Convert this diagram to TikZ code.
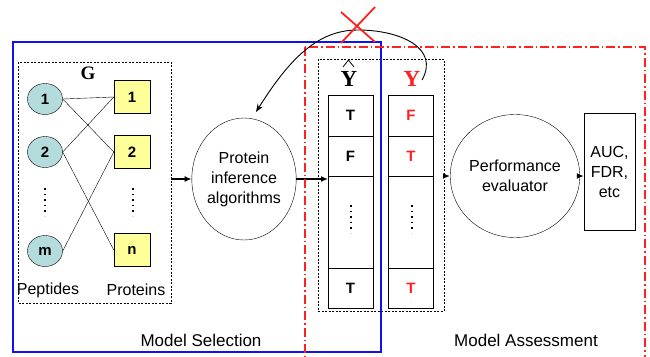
\documentclass[tikz,border=0pt]{standalone}
\usepackage{fontspec}
\setmainfont{Liberation Serif}
\setsansfont{Liberation Sans}
\usetikzlibrary{shapes.geometric,arrows.meta}
\definecolor{pepfill}{HTML}{B5DCDD}
\definecolor{protfill}{HTML}{FFFF99}
\definecolor{myred}{HTML}{FF2020}
\definecolor{myblue}{HTML}{1010F0}
\begin{document}
\begin{tikzpicture}[x=1pt,y=-1pt,
  every node/.style={font=\sffamily\fontsize{16}{20}\selectfont},
  pep/.style={ellipse,draw,fill=pepfill,minimum width=35,minimum height=31,inner sep=0,font=\sffamily\bfseries\fontsize{15}{18}\selectfont},
  prot/.style={rectangle,draw,fill=protfill,minimum width=36,minimum height=33,inner sep=0,font=\sffamily\bfseries\fontsize{15}{18}\selectfont},
  proc/.style={ellipse,draw,inner sep=0,align=center},
  cell/.style={rectangle,draw,minimum width=45,inner sep=0,font=\sffamily\bfseries\fontsize{15}{18}\selectfont},
  flow/.style={line width=1.6pt,-{Latex[length=7pt,width=6pt]}},
  vdots/.style={line width=2pt,dash pattern=on 1.6pt off 4pt},
  gbox/.style={draw,dashed,dash pattern=on 2pt off 1.5pt,line width=0.6pt},
  lbl/.style={font=\sffamily\fontsize{17}{20}\selectfont},
  bigY/.style={font=\rmfamily\bfseries\fontsize{23}{24}\selectfont,inner sep=0}
]
\useasboundingbox (0,0) rectangle (650,356);
\clip (0,0) rectangle (650,356);

% G box
\draw[gbox] (18,62) rectangle (171,303);
\node[font=\rmfamily\bfseries\fontsize{19}{22}\selectfont] (G) at (88,73) {G};
\node[pep] (p1) at (45,99) {1};
\node[pep] (p2) at (45,152) {2};
\node[pep] (pm) at (45,251) {m};
\node[prot] (r1) at (132,97) {1};
\node[prot] (r2) at (132,152) {2};
\node[prot] (rn) at (132,250) {n};
\draw (p1.east) -- (r1.west);
\draw (p1.east) -- (r2.west);
\draw (p2.east) -- (r1.west);
\draw (p2.east) -- (rn.west);
\draw (pm.east) -- (r2.west);
\coordinate (d1a) at (45,188); \coordinate (d1b) at (45,216);
\coordinate (d2a) at (133,188); \coordinate (d2b) at (133,216);
\draw[vdots] (d1a) -- (d1b);
\draw[vdots] (d2a) -- (d2b);
\node (pep) at (48,290) {Peptides};
\node (pro) at (136,290) {Proteins};

% protein inference
\node[proc,minimum width=102,minimum height=122] (pia) at (244,179) {Protein\\inference\\algorithms};
\coordinate (gout) at (171,179);
\draw[flow] (gout) -- (pia.west);

% columns box
\draw[gbox] (318,59) rectangle (444,311);
\node[bigY] (yhat) at (349,79) {Y};
\coordinate (h1) at (343,67); \coordinate (h2) at (348.5,60); \coordinate (h3) at (354,67);
\draw[line width=0.8pt] (h1) -- (h2) -- (h3);
\node[bigY,text=myred] (ylab) at (412,79) {Y};

\node[cell,minimum height=41] (a1) at (350.5,115.5) {T};
\node[cell,minimum height=40] (a2) at (350.5,156) {F};
\node[cell,minimum height=92] (a3) at (350.5,222) {};
\node[cell,minimum height=40] (a4) at (350.5,288) {T};
\node[cell,minimum height=41,text=myred] (b1) at (411,115.5) {F};
\node[cell,minimum height=40,text=myred] (b2) at (411,156) {T};
\node[cell,minimum height=92] (b3) at (411,222) {};
\node[cell,minimum height=40,text=myred] (b4) at (411,288) {T};
\coordinate (e1a) at (351,205); \coordinate (e1b) at (351,233);
\coordinate (e2a) at (412,205); \coordinate (e2b) at (412,233);
\draw[vdots] (e1a) -- (e1b);
\draw[vdots] (e2a) -- (e2b);

\coordinate (ain) at (328,179);
\draw[flow] (pia.east) -- (ain);

% performance
\node[proc,minimum width=100,minimum height=123] (perf) at (515,176) {Performance\\evaluator};
\coordinate (cbout) at (444,176);
\draw[flow] (cbout) -- (perf.west);
\node[draw,minimum width=51,minimum height=117,inner sep=0,align=center] (auc) at (609.5,171.5) {AUC,\\FDR,\\etc};
\draw[flow] (perf.east) -- (auc.west |- perf.east);

% frames
\draw[myblue,line width=1.2pt] (13,42) rectangle (381,352);
\draw[myred,line width=1.3pt,dash pattern=on 9pt off 3pt on 1.5pt off 3pt] (305,47) rectangle (645,390);

% feedback curve
\coordinate (cs) at (422,80);
\coordinate (ce) at (256,112);
\draw[line width=0.9pt,-{Stealth[length=8pt,width=6pt]}] (cs) .. controls (440,48) and (400,30) .. (358,30) .. controls (318,30) and (290,58) .. (ce);

% red X
\coordinate (x1) at (341,12); \coordinate (x2) at (375,42);
\coordinate (x3) at (375,7); \coordinate (x4) at (341,43);
\draw[myred,line width=1.8pt] (x1) -- (x2);
\draw[myred,line width=1.8pt] (x3) -- (x4);

\node[lbl] (ms) at (201,340) {Model Selection};
\node[lbl] (ma) at (526,340) {Model Assessment};
\end{tikzpicture}
\end{document}
